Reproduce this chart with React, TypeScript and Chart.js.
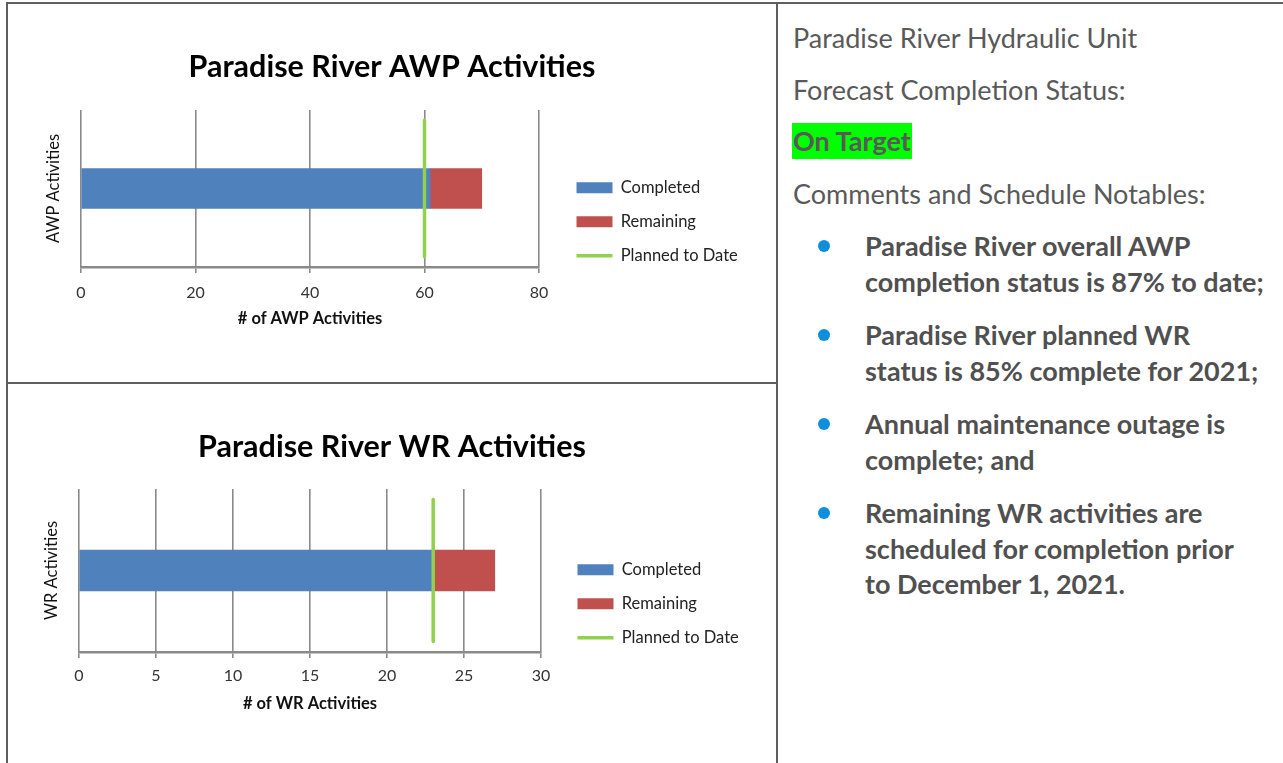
import React, { useEffect, useRef } from 'react';
import { Chart, registerables } from 'chart.js';

Chart.register(...registerables);

const FONT = 'Lato, "Open Sans", "DejaVu Sans", sans-serif';

// ---- data ----
const SERIES_LABELS = ['Completed', 'Remaining', 'Planned to Date'];
const SERIES_COLORS = ['#4f81bd', '#c0504d', '#92d050'];

const AWP_CATEGORIES = ['AWP Activities'];
const AWP_COMPLETED = [61];
const AWP_REMAINING = [9];
const AWP_PLANNED = [60];
const AWP_TICKS = [0, 20, 40, 60, 80];

const WR_CATEGORIES = ['WR Activities'];
const WR_COMPLETED = [23];
const WR_REMAINING = [4];
const WR_PLANNED = [23];
const WR_TICKS = [0, 5, 10, 15, 20, 25, 30];

const STATUS_HEADER = ['Paradise River Hydraulic Unit', 'Forecast Completion Status:'];
const STATUS_VALUE = 'On Target';
const COMMENTS_HEADER = 'Comments and Schedule Notables:';
const NOTES = [
  ['Paradise River overall AWP', 'completion status is 87% to date;'],
  ['Paradise River planned WR', 'status is 85% complete for 2021;'],
  ['Annual maintenance outage is', 'complete; and'],
  ['Remaining WR activities are', 'scheduled for completion prior', 'to December 1, 2021.'],
];

// vertical extent of the planned marker on a hidden 0..1 helper axis
const PLANNED_SPAN = [0.065, 0.935];

const legendPlacer = {
  id: 'legendPlacer',
  beforeLayout(chart: any, _args: any, opts: any) {
    const l: any = chart.legend;
    if (l && !l.__patched) {
      const orig = l.fit.bind(l);
      l.fit = function () {
        orig();
        this.width = opts.width;
      };
      l.__patched = true;
    }
  },
  afterLayout(chart: any, _args: any, opts: any) {
    const l: any = chart.legend;
    const ca = chart.chartArea;
    if (!l) return;
    const w = l.width;
    const h = l.height;
    l.left = ca.right + opts.gap;
    l.right = l.left + w;
    l.top = ca.top + opts.top;
    l.bottom = l.top + h;
  },
};

interface Params {
  title: string;
  categories: string[];
  completed: number[];
  remaining: number[];
  planned: number[];
  ticks: number[];
  xTitle: string;
  yTitle: string;
  width: number;
  height: number;
  yAxisWidth: number;
  xAxisHeight: number;
  titlePadTop: number;
  titlePadBottom: number;
  yTitlePad: number;
  xTitlePadBottom: number;
  tickPad: number;
  barThickness: number;
  legendWidth: number;
  legendGap: number;
  legendTop: number;
}

function makeConfig(p: Params): any {
  const gridColor = '#8a8a8a';
  return {
    type: 'bar',
    data: {
      labels: p.categories,
      datasets: [
        {
          type: 'line',
          label: SERIES_LABELS[2],
          data: [
            { x: p.planned[0], y: PLANNED_SPAN[0] },
            { x: p.planned[0], y: PLANNED_SPAN[1] },
          ],
          xAxisID: 'x',
          yAxisID: 'y2',
          borderColor: SERIES_COLORS[2],
          backgroundColor: SERIES_COLORS[2],
          borderWidth: 3.5,
          borderCapStyle: 'round',
          pointRadius: 0,
          order: 0,
        },
        {
          label: SERIES_LABELS[0],
          data: p.completed,
          backgroundColor: SERIES_COLORS[0],
          barThickness: p.barThickness,
          grouped: false,
          xAxisID: 'x',
          yAxisID: 'y',
          order: 1,
        },
        {
          label: SERIES_LABELS[1],
          data: p.remaining,
          backgroundColor: SERIES_COLORS[1],
          barThickness: p.barThickness,
          grouped: false,
          xAxisID: 'x',
          yAxisID: 'y',
          order: 1,
        },
      ],
    },
    options: {
      indexAxis: 'y',
      responsive: false,
      animation: false,
      events: [],
      layout: { padding: 0 },
      scales: {
        x: {
          type: 'linear',
          stacked: true,
          min: p.ticks[0],
          max: p.ticks[p.ticks.length - 1],
          ticks: {
            stepSize: p.ticks[1] - p.ticks[0],
            font: { family: FONT, size: 16 },
            color: '#333333',
            padding: p.tickPad,
          },
          grid: {
            color: gridColor,
            lineWidth: 1.6,
            drawTicks: true,
            tickLength: 6,
            tickColor: gridColor,
            tickWidth: 1.6,
          },
          border: { display: true, color: gridColor, width: 2.5 },
          title: {
            display: true,
            text: p.xTitle,
            font: { family: FONT, size: 16.5, weight: 'bold' },
            color: '#111111',
            padding: { top: 0, bottom: p.xTitlePadBottom },
          },
          afterFit: (s: any) => {
            s.height = p.xAxisHeight;
          },
        },
        y: {
          type: 'category',
          stacked: true,
          ticks: { display: false },
          grid: { display: false, drawTicks: false },
          border: { display: false },
          title: {
            display: true,
            text: p.yTitle,
            font: { family: FONT, size: 16.5 },
            color: '#111111',
            padding: { top: p.yTitlePad, bottom: 0 },
          },
          afterFit: (s: any) => {
            s.width = p.yAxisWidth;
          },
        },
        y2: {
          type: 'linear',
          min: 0,
          max: 1,
          reverse: true,
          offset: false,
          grid: { offset: false },
          display: false,
        },
      },
      plugins: {
        title: {
          display: true,
          text: p.title,
          font: { family: FONT, size: 30.5, weight: 'bold' },
          color: '#000000',
          padding: { top: p.titlePadTop, bottom: p.titlePadBottom },
        },
        legend: {
          display: true,
          position: 'right',
          align: 'start',
          labels: {
            usePointStyle: true,
            pointStyleWidth: 36,
            boxHeight: 11,
            padding: 17.5,
            font: { family: FONT, size: 16.5 },
            color: '#222222',
            generateLabels: () =>
              SERIES_LABELS.map((t, i) => ({
                text: t,
                fillStyle: SERIES_COLORS[i],
                strokeStyle: SERIES_COLORS[i],
                lineWidth: i === 2 ? 3.5 : 0,
                pointStyle: i === 2 ? 'line' : 'rect',
                hidden: false,
                datasetIndex: i,
                fontColor: '#222222',
              })),
          },
        },
        legendPlacer: { width: p.legendWidth, gap: p.legendGap, top: p.legendTop },
        tooltip: { enabled: false },
      },
    },
    plugins: [legendPlacer],
  };
}

function ChartBox({ params }: { params: Params }) {
  const ref = useRef<HTMLCanvasElement | null>(null);
  useEffect(() => {
    if (!ref.current) return;
    const chart = new Chart(ref.current, makeConfig(params));
    return () => chart.destroy();
  }, [params]);
  return (
    <canvas
      ref={ref}
      width={params.width}
      height={params.height}
      style={{ display: 'block', width: params.width, height: params.height }}
    />
  );
}

const AWP_PARAMS: Params = {
  title: 'Paradise River AWP Activities',
  categories: AWP_CATEGORIES,
  completed: AWP_COMPLETED,
  remaining: AWP_REMAINING,
  planned: AWP_PLANNED,
  ticks: AWP_TICKS,
  xTitle: '# of AWP Activities',
  yTitle: 'AWP Activities',
  width: 768,
  height: 378,
  yAxisWidth: 73,
  xAxisHeight: 115,
  titlePadTop: 44.7,
  titlePadBottom: 24.7,
  yTitlePad: 36,
  xTitlePadBottom: 53,
  tickPad: 10,
  barThickness: 40,
  legendWidth: 237,
  legendGap: 20,
  legendTop: 52,
};

const WR_PARAMS: Params = {
  title: 'Paradise River WR Activities',
  categories: WR_CATEGORIES,
  completed: WR_COMPLETED,
  remaining: WR_REMAINING,
  planned: WR_PLANNED,
  ticks: WR_TICKS,
  xTitle: '# of WR Activities',
  yTitle: 'WR Activities',
  width: 768,
  height: 379,
  yAxisWidth: 71,
  xAxisHeight: 111,
  titlePadTop: 44.7,
  titlePadBottom: 23.7,
  yTitlePad: 34,
  xTitlePadBottom: 49,
  tickPad: 8,
  barThickness: 41,
  legendWidth: 235,
  legendGap: 19,
  legendTop: 55,
};

const BORDER = '#5f5f5f';

export default function App() {
  const textColor = '#595959';
  return (
    <div style={{ position: 'absolute', left: 0, top: 0, width: 1283, height: 763, overflow: 'hidden', background: '#ffffff' }}>
      {/* table borders */}
      <div style={{ position: 'absolute', left: 6, top: 2, width: 1277, height: 2, background: BORDER }} />
      <div style={{ position: 'absolute', left: 6, top: 2, width: 2, height: 761, background: BORDER }} />
      <div style={{ position: 'absolute', left: 776, top: 2, width: 2, height: 761, background: BORDER }} />
      <div style={{ position: 'absolute', left: 6, top: 382, width: 772, height: 2, background: BORDER }} />

      <div style={{ position: 'absolute', left: 8, top: 4 }}>
        <ChartBox params={AWP_PARAMS} />
      </div>
      <div style={{ position: 'absolute', left: 8, top: 384 }}>
        <ChartBox params={WR_PARAMS} />
      </div>

      {/* right column text */}
      <div style={{ position: 'absolute', left: 793, top: 0, fontFamily: FONT, color: textColor, fontSize: 27 }}>
        <div style={{ position: 'absolute', left: 0, top: 20, lineHeight: '36px', whiteSpace: 'nowrap' }}>{STATUS_HEADER[0]}</div>
        <div style={{ position: 'absolute', left: 0, top: 72, lineHeight: '36px', whiteSpace: 'nowrap' }}>{STATUS_HEADER[1]}</div>
        <div style={{ position: 'absolute', left: -1, top: 123, lineHeight: '36px', whiteSpace: 'nowrap' }}>
          <span style={{ display: 'inline-block', background: '#00ff00', fontWeight: 'bold', padding: '0 1px', height: 36 }}>
            {STATUS_VALUE}
          </span>
        </div>
        <div style={{ position: 'absolute', left: 0, top: 176, lineHeight: '36px', whiteSpace: 'nowrap' }}>{COMMENTS_HEADER}</div>
      </div>
      <div style={{ position: 'absolute', left: 865, top: 228, fontFamily: FONT, color: '#505050', fontSize: 27, fontWeight: 'bold' }}>
        {NOTES.map((lines, i) => (
          <div key={i} style={{ position: 'relative', lineHeight: '35.5px', marginBottom: 18, whiteSpace: 'nowrap' }}>
            <span
              style={{
                position: 'absolute',
                left: -47,
                top: 12,
                width: 12,
                height: 12,
                borderRadius: '50%',
                background: '#0f8fdb',
              }}
            />
            {lines.map((ln, j) => (
              <div key={j}>{ln}</div>
            ))}
          </div>
        ))}
      </div>
    </div>
  );
}
